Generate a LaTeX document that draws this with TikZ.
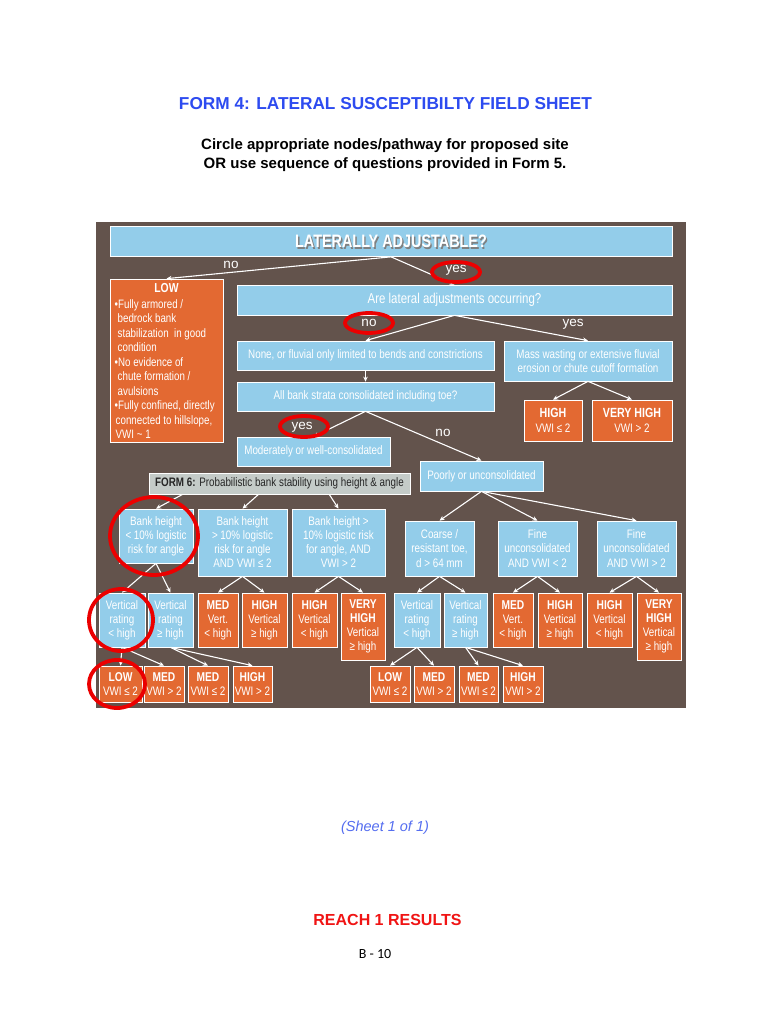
\documentclass[tikz,border=0pt]{standalone}
\usepackage{fontspec}
\setmainfont{Liberation Sans}
\newfontfamily\nrw[FakeStretch=0.8]{Liberation Sans}
\newfontfamily\calib{Carlito}
\usetikzlibrary{arrows.meta,calc}
\definecolor{bgbrown}{RGB}{99,83,76}
\definecolor{lblue}{RGB}{147,205,234}
\definecolor{orng}{RGB}{227,105,50}
\definecolor{lgray}{RGB}{196,203,200}
\definecolor{titleblue}{RGB}{45,75,240}
\definecolor{sheetblue}{RGB}{85,110,240}
\definecolor{reachred}{RGB}{240,20,20}
\definecolor{ringred}{RGB}{235,0,0}
\newcommand\boxfont{\nrw\fontsize{12.3}{14}\selectfont}
\newcommand\smfont{\nrw\fontsize{11.8}{14}\selectfont}
\newcommand\hdfont{\nrw\bfseries\fontsize{12.8}{14}\selectfont}
\newcommand\lblfont{\fontsize{13.5}{15}\selectfont}
\begin{document}
\begin{tikzpicture}[x=1pt,y=-1pt,
  base/.style={draw=white, line width=0.7pt, inner sep=0pt, align=center, text=white, font=\boxfont},
  bluebox/.style={base, fill=lblue},
  orangebox/.style={base, fill=orng},
  graybox/.style={base, fill=lgray, text={black!85}},
  arr/.style={draw=white, line width=1.1pt, -{Stealth[length=5pt,width=4.5pt]}},
  lbl/.style={text=white, font=\lblfont, inner sep=0pt},
  ring/.style={draw=ringred, line width=3.8pt},
]
\useasboundingbox (0,0) rectangle (770,1024);
\fill[white] (0,0) rectangle (770,1024);

% ---------- header ----------
\node[font=\bfseries\fontsize{17.25}{20}\selectfont, text=titleblue] (title) at (385.5,104) {FORM 4: LATERAL SUSCEPTIBILTY FIELD SHEET};
\node[font=\bfseries\fontsize{15}{19}\selectfont, align=center] (sub) at (385,155) {Circle appropriate nodes/pathway for proposed site\\OR use sequence of questions provided in Form 5.};

% ---------- diagram background ----------
\fill[bgbrown] (96,222) rectangle (686,708);

% ---------- level 0/1 ----------
\node[bluebox, minimum width=562, minimum height=30] (top) at (391,241.5) {};
\node[text=black!50, font=\nrw\bfseries\fontsize{18}{20}\selectfont] (topsh) at ([shift={(1.4,1.4)}]top.center) {LATERALLY ADJUSTABLE?};
\node[text=white, font=\nrw\bfseries\fontsize{18}{20}\selectfont] (toplbl) at (top.center) {LATERALLY ADJUSTABLE?};

\node[orangebox, minimum width=113, minimum height=163] (low) at (166.5,360.5) {};
\node[text=white, font=\nrw\bfseries\fontsize{13}{15}\selectfont] (lowt) at (166.5,288) {LOW};
\node[text=white, font=\nrw\fontsize{12.2}{14.5}\selectfont, align=left, anchor=north west, inner sep=0pt] (lowtxt) at (114.5,299)
 {•Fully armored /\\\hspace{3pt}bedrock bank\\\hspace{3pt}stabilization\ \ in good\\\hspace{3pt}condition\\•No evidence of\\\hspace{3pt}chute formation /\\\hspace{3pt}avulsions\\•Fully confined, directly\\\hspace{1pt}connected to hillslope,\\\hspace{1pt}VWI \textasciitilde\ 1};

\node[bluebox, minimum width=435, minimum height=30, font=\nrw\fontsize{14.3}{16}\selectfont] (are) at (454.5,300) {Are lateral adjustments occurring?};
\node[bluebox, minimum width=257, minimum height=29] (none) at (365.5,355.5) {None, or fluvial only limited to bends and constrictions};
\node[bluebox, minimum width=168, minimum height=40, font=\nrw\fontsize{12.3}{13.5}\selectfont] (mass) at (588,361) {Mass wasting or extensive fluvial\\erosion or chute cutoff formation};
\node[bluebox, minimum width=257, minimum height=29] (allb) at (365.5,396.5) {All bank strata consolidated including toe?};
\node[orangebox, minimum width=58, minimum height=41, font=\nrw\fontsize{12.3}{15}\selectfont] (high) at (553,420.5) {{\nrw\bfseries\fontsize{13.3}{15}\selectfont HIGH}\\VWI ≤ 2};
\node[orangebox, minimum width=80, minimum height=41, font=\nrw\fontsize{12.3}{15}\selectfont] (vhigh) at (632,420.5) {{\nrw\bfseries\fontsize{13.3}{15}\selectfont VERY HIGH}\\VWI > 2};
\node[bluebox, minimum width=153, minimum height=29] (mod) at (313.5,451.5) {Moderately or well-consolidated};
\node[graybox, minimum width=261, minimum height=21] (form6) at (279.5,483.5) {\textbf{FORM 6:} Probabilistic bank stability using height \& angle};
\node[bluebox, minimum width=123, minimum height=30] (poor) at (481.5,476) {Poorly or unconsolidated};

% ---------- level 2 ----------
\node[bluebox, minimum width=74, minimum height=54] (b1) at (156,536) {Bank height\\< 10\% logistic\\risk for angle};
\node[bluebox, minimum width=89, minimum height=67] (b2) at (242.5,542.5) {Bank height\\> 10\% logistic\\risk for angle\\AND VWI ≤ 2};
\node[bluebox, minimum width=93, minimum height=67] (b3) at (338.5,542.5) {Bank height >\\10\% logistic risk\\for angle, AND\\VWI > 2};
\node[bluebox, minimum width=69, minimum height=55, font=\nrw\fontsize{12.3}{14.5}\selectfont] (ca) at (439.5,548.5) {Coarse /\\resistant toe,\\d > 64 mm};
\node[bluebox, minimum width=79, minimum height=55, font=\nrw\fontsize{12.3}{14.5}\selectfont] (cb) at (537.5,548.5) {Fine\\unconsolidated\\AND VWI < 2};
\node[bluebox, minimum width=79, minimum height=55, font=\nrw\fontsize{12.3}{14.5}\selectfont] (cc) at (636.5,548.5) {Fine\\unconsolidated\\AND VWI > 2};

% ---------- level 3 ----------
\begin{scope}[every node/.append style={font=\smfont}]
\node[bluebox, minimum width=46, minimum height=54] (v1) at (122,620) {Vertical\\rating\\< high};
\node[bluebox, minimum width=45, minimum height=54] (v2) at (170.5,620) {Vertical\\rating\\≥ high};
\node[orangebox, minimum width=40, minimum height=54] (m1) at (218,620) {{\hdfont MED}\\Vert.\\< high};
\node[orangebox, minimum width=45, minimum height=54] (h1) at (264.5,620) {{\hdfont HIGH}\\Vertical\\≥ high};
\node[orangebox, minimum width=45, minimum height=54] (h2) at (314.5,620) {{\hdfont HIGH}\\Vertical\\< high};
\node[orangebox, minimum width=44, minimum height=67] (vh1) at (363,626.5) {{\hdfont VERY}\\{\hdfont HIGH}\\Vertical\\≥ high};
\node[bluebox, minimum width=46, minimum height=54] (v3) at (417,620) {Vertical\\rating\\< high};
\node[bluebox, minimum width=43, minimum height=54] (v4) at (465.5,620) {Vertical\\rating\\≥ high};
\node[orangebox, minimum width=40, minimum height=54] (m2) at (513,620) {{\hdfont MED}\\Vert.\\< high};
\node[orangebox, minimum width=44, minimum height=54] (h3) at (560,620) {{\hdfont HIGH}\\Vertical\\≥ high};
\node[orangebox, minimum width=45, minimum height=54] (h4) at (609.5,620) {{\hdfont HIGH}\\Vertical\\< high};
\node[orangebox, minimum width=44, minimum height=67] (vh2) at (659,626.5) {{\hdfont VERY}\\{\hdfont HIGH}\\Vertical\\≥ high};

% ---------- level 4 ----------
\node[orangebox, minimum width=43, minimum height=36] (lo1) at (120.5,684) {{\hdfont LOW}\\VWI ≤ 2};
\node[orangebox, minimum width=40, minimum height=36] (me1) at (164,684) {{\hdfont MED}\\VWI > 2};
\node[orangebox, minimum width=40, minimum height=36] (me2) at (208,684) {{\hdfont MED}\\VWI ≤ 2};
\node[orangebox, minimum width=39, minimum height=36] (hi1) at (252.5,684) {{\hdfont HIGH}\\VWI > 2};
\node[orangebox, minimum width=40, minimum height=36] (lo2) at (390,684) {{\hdfont LOW}\\VWI ≤ 2};
\node[orangebox, minimum width=40, minimum height=36] (me3) at (434,684) {{\hdfont MED}\\VWI > 2};
\node[orangebox, minimum width=39, minimum height=36] (me4) at (478.5,684) {{\hdfont MED}\\VWI ≤ 2};
\node[orangebox, minimum width=40, minimum height=36] (hi2) at (523,684) {{\hdfont HIGH}\\VWI > 2};
\end{scope}

% ---------- connectors ----------
\draw[arr] (top.south) -- (low.north);
\draw[arr] (top.south) -- (are.north);
\draw[arr] (are.south) -- (none.north);
\draw[arr] (are.south) -- (mass.north);
\draw[arr] (none.south) -- (allb.north);
\draw[arr] (mass.south) -- (high.north);
\draw[arr] (mass.south) -- (vhigh.north);
\draw[arr] (allb.south) -- (mod.north);
\draw[arr] (allb.south) -- (poor.north);
\coordinate (f6a) at ($(form6.south west)!0.13!(form6.south east)$);
\coordinate (f6b) at ($(form6.south west)!0.42!(form6.south east)$);
\coordinate (f6c) at ($(form6.south west)!0.69!(form6.south east)$);
\draw[arr] (f6a) -- (b1.north);
\draw[arr] (f6b) -- (b2.north);
\draw[arr] (f6c) -- (b3.north);
\draw[arr] (poor.south) -- (ca.north);
\draw[arr] (poor.south) -- (cb.north);
\draw[arr] (poor.south) -- (cc.north);
\draw[arr] (b1.south) -- (v1.north);
\draw[arr] (b1.south) -- (v2.north);
\draw[arr] (b2.south) -- (m1.north);
\draw[arr] (b2.south) -- (h1.north);
\draw[arr] (b3.south) -- (h2.north);
\draw[arr] (b3.south) -- (vh1.north);
\draw[arr] (ca.south) -- (v3.north);
\draw[arr] (ca.south) -- (v4.north);
\draw[arr] (cb.south) -- (m2.north);
\draw[arr] (cb.south) -- (h3.north);
\draw[arr] (cc.south) -- (h4.north);
\draw[arr] (cc.south) -- (vh2.north);
\draw[arr] (v1.south) -- (lo1.north);
\draw[arr] (v1.south) -- (me1.north);
\draw[arr] (v2.south) -- (me2.north);
\draw[arr] (v2.south) -- (hi1.north);
\draw[arr] (v3.south) -- (lo2.north);
\draw[arr] (v3.south) -- (me3.north);
\draw[arr] (v4.south) -- (me4.north);
\draw[arr] (v4.south) -- (hi2.north);

% ---------- branch labels ----------
\node[lbl] (no1) at (231,265) {no};
\node[lbl] (yes1) at (456,270) {yes};
\node[lbl] (no2) at (369,323) {no};
\node[lbl] (yes2) at (573,324) {yes};
\node[lbl] (yes3) at (302,427) {yes};
\node[lbl] (no3) at (443,433) {no};

% ---------- red circles ----------
\draw[ring] (456,272) ellipse [x radius=24, y radius=10];
\draw[ring] (369,323) ellipse [x radius=24, y radius=10];
\draw[ring] (304,426.5) ellipse [x radius=24, y radius=10.5];
\draw[ring] (154,536) ellipse [x radius=44, y radius=39];
\draw[ring] (121,620) ellipse [x radius=32, y radius=31];
\draw[ring] (117,684) ellipse [x radius=28, y radius=24];

% ---------- footer ----------
\node[font=\itshape\fontsize{14.5}{17}\selectfont, text=sheetblue] (sheet) at (385,828) {(Sheet 1 of 1)};
\node[font=\bfseries\fontsize{16}{19}\selectfont, text=reachred] (reach) at (387.5,920) {REACH 1 RESULTS};
\node[font=\calib\fontsize{14}{17}\selectfont] (pg) at (375,954) {B - 10};
\end{tikzpicture}
\end{document}
